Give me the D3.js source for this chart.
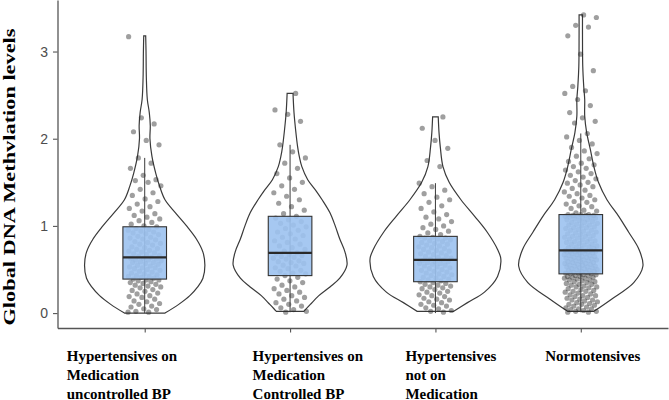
<!DOCTYPE html>
<html>
<head>
<meta charset="utf-8">
<script src="https://cdn.jsdelivr.net/npm/d3@7"></script>
<style>
  body { margin: 0; background: #fff; }
  svg { display: block; }
</style>
</head>
<body>
<div id="chart"></div>
<script>
// ---- data ----
const groups = ["uncontrolled", "controlled", "notMedicated", "normo"];

const groupLabels = [
	["Hypertensives on", "Medication", "uncontrolled BP"],
	["Hypertensives on", "Medication", "Controlled BP"],
	["Hypertensives", "not on", "Medication"],
	["Normotensives"]
];

const yTicks = [0, 1, 2, 3];

// box stats per group: lower whisker, Q1, median, Q3, upper whisker
const whiskerLo = [0.0, 0.01, 0.0, 0.01];
const q1 = [0.39, 0.43, 0.36, 0.45];
const medians = [0.64, 0.69, 0.61, 0.72];
const q3 = [0.99, 1.11, 0.88, 1.13];
const whiskerHi = [1.78, 1.93, 1.49, 2.06];

// violin outlines: level and relative density (1 = widest violin)
const violinLevels = [
	[0.0, 0.1, 0.2, 0.3, 0.4, 0.55, 0.7, 0.85, 1.0, 1.15, 1.3, 1.45, 1.6, 1.8, 2.0, 2.15, 2.3, 2.45, 2.7, 3.0, 3.18],
	[0.02, 0.1, 0.2, 0.3, 0.4, 0.55, 0.7, 0.85, 1.0, 1.15, 1.3, 1.4, 1.53, 1.68, 1.8, 1.91, 2.1, 2.3, 2.52],
	[0.02, 0.12, 0.24, 0.42, 0.62, 0.73, 0.93, 1.11, 1.3, 1.5, 1.68, 1.9, 2.07, 2.25],
	[0.02, 0.16, 0.35, 0.54, 0.73, 0.93, 1.11, 1.3, 1.5, 1.68, 1.88, 2.07, 2.26, 2.45, 2.6, 2.83, 3.2, 3.42]
];
const violinDensity = [
	[0.31, 0.52, 0.69, 0.81, 0.89, 0.92, 0.89, 0.79, 0.64, 0.47, 0.31, 0.23, 0.17, 0.11, 0.08, 0.085, 0.07, 0.04, 0.025, 0.02, 0.015],
	[0.21, 0.31, 0.44, 0.61, 0.76, 0.87, 0.84, 0.76, 0.69, 0.61, 0.49, 0.40, 0.27, 0.18, 0.14, 0.115, 0.085, 0.06, 0.045],
	[0.28, 0.49, 0.75, 0.95, 1.0, 0.95, 0.79, 0.60, 0.39, 0.21, 0.115, 0.075, 0.055, 0.043],
	[0.2, 0.47, 0.81, 0.95, 0.89, 0.73, 0.58, 0.40, 0.27, 0.2, 0.145, 0.09, 0.06, 0.06, 0.045, 0.03, 0.026, 0.026]
];

// individual observations (jittered points)
const valuesUncontrolled = [
	0.01, 0.01, 0.02, 0.04, 0.05, 0.07, 0.08, 0.1, 0.11, 0.13, 0.14, 0.16, 0.18, 0.19, 0.2, 0.22, 0.23, 0.25, 0.26, 0.27, 0.29, 0.3, 0.31, 0.32, 0.33, 0.34, 0.35, 0.36, 0.37, 0.38, 0.38,
	0.39, 0.4, 0.41, 0.42, 0.42, 0.43, 0.44, 0.45, 0.46, 0.47, 0.48, 0.49, 0.5, 0.51, 0.52, 0.52, 0.53, 0.54, 0.55, 0.56, 0.57, 0.58, 0.58, 0.59, 0.6, 0.61, 0.61, 0.62, 0.63, 0.63, 0.64,
	0.65, 0.66, 0.67, 0.68, 0.69, 0.7, 0.71, 0.72, 0.73, 0.74, 0.75, 0.76, 0.78, 0.79, 0.8, 0.81, 0.82, 0.84, 0.85, 0.86, 0.87, 0.88, 0.9, 0.91, 0.92, 0.93, 0.94, 0.95, 0.96, 0.97, 0.99,
	1.0, 1.02, 1.04, 1.06, 1.08, 1.1, 1.12, 1.14, 1.17, 1.2, 1.22, 1.25, 1.28, 1.31, 1.35, 1.38, 1.42, 1.46, 1.5, 1.52, 1.53, 1.58, 1.66, 1.72, 1.78, 1.93, 1.98, 2.08, 2.17, 2.24, 3.17
];
const valuesControlled = [
	0.01, 0.02, 0.04, 0.06, 0.08, 0.1, 0.12, 0.14, 0.16, 0.18, 0.2, 0.22, 0.24, 0.26, 0.28, 0.3, 0.32, 0.35, 0.37, 0.39, 0.41,
	0.43, 0.45, 0.46, 0.48, 0.49, 0.51, 0.52, 0.54, 0.55, 0.57, 0.58, 0.59, 0.6, 0.62, 0.63, 0.64, 0.65, 0.66, 0.67, 0.68, 0.69,
	0.71, 0.73, 0.75, 0.77, 0.79, 0.81, 0.83, 0.85, 0.87, 0.89, 0.91, 0.93, 0.95, 0.97, 0.99, 1.01, 1.03, 1.05, 1.07, 1.09, 1.11,
	1.14, 1.18, 1.22, 1.26, 1.3, 1.34, 1.38, 1.42, 1.46, 1.5, 1.55, 1.6, 1.66, 1.72, 1.78, 1.85, 1.93, 2.2, 2.28, 2.33, 2.52
];
const valuesNotMedicated = [
	0.01, 0.02, 0.03, 0.05, 0.06, 0.08, 0.09, 0.1, 0.12, 0.13, 0.15, 0.16, 0.17, 0.19, 0.2, 0.21, 0.23, 0.24, 0.25, 0.27, 0.28, 0.29, 0.3, 0.31, 0.32, 0.33, 0.34, 0.35,
	0.36, 0.37, 0.38, 0.39, 0.4, 0.41, 0.42, 0.43, 0.44, 0.45, 0.46, 0.47, 0.48, 0.49, 0.5, 0.51, 0.52, 0.53, 0.54, 0.55, 0.56, 0.57, 0.57, 0.58, 0.59, 0.59, 0.6, 0.61,
	0.62, 0.63, 0.64, 0.65, 0.66, 0.67, 0.68, 0.69, 0.7, 0.71, 0.72, 0.73, 0.74, 0.75, 0.76, 0.77, 0.78, 0.79, 0.8, 0.81, 0.82, 0.83, 0.84, 0.85, 0.86, 0.86, 0.87, 0.88,
	0.9, 0.92, 0.94, 0.96, 0.98, 1.0, 1.02, 1.05, 1.08, 1.1, 1.13, 1.16, 1.2, 1.23, 1.27, 1.3, 1.33, 1.37, 1.41, 1.45, 1.49, 1.68, 1.75, 1.89, 1.98, 2.12, 2.25
];
const valuesNormo = [
	0.01, 0.01, 0.02, 0.02, 0.03, 0.04, 0.05, 0.05, 0.06, 0.07, 0.08, 0.09, 0.1, 0.1, 0.11, 0.12, 0.13, 0.14, 0.15, 0.15, 0.16, 0.17, 0.18, 0.19, 0.2, 0.2, 0.21, 0.22, 0.23, 0.24,
	0.25, 0.25, 0.26, 0.27, 0.28, 0.29, 0.3, 0.3, 0.31, 0.32, 0.33, 0.33, 0.34, 0.35, 0.36, 0.36, 0.37, 0.38, 0.38, 0.39, 0.4, 0.4, 0.41, 0.41, 0.42, 0.42, 0.43, 0.43, 0.44, 0.44,
	0.45, 0.45, 0.46, 0.46, 0.47, 0.47, 0.48, 0.48, 0.49, 0.49, 0.5, 0.5, 0.51, 0.51, 0.52, 0.52, 0.53, 0.53, 0.54, 0.54, 0.55, 0.55, 0.56, 0.56, 0.57, 0.57, 0.58, 0.58, 0.59, 0.59,
	0.6, 0.6, 0.61, 0.61, 0.62, 0.62, 0.63, 0.63, 0.64, 0.64, 0.65, 0.65, 0.66, 0.66, 0.67, 0.67, 0.68, 0.68, 0.69, 0.69, 0.7, 0.7, 0.7, 0.71, 0.71, 0.71, 0.72, 0.72, 0.72, 0.72,
	0.73, 0.74, 0.74, 0.75, 0.76, 0.76, 0.77, 0.78, 0.79, 0.79, 0.8, 0.81, 0.82, 0.82, 0.83, 0.84, 0.85, 0.85, 0.86, 0.87, 0.88, 0.88, 0.89, 0.9, 0.91, 0.91, 0.92, 0.93, 0.94, 0.95,
	0.95, 0.96, 0.97, 0.98, 0.98, 0.99, 1.0, 1.01, 1.01, 1.02, 1.03, 1.04, 1.04, 1.05, 1.06, 1.07, 1.07, 1.08, 1.09, 1.09, 1.1, 1.1, 1.11, 1.11, 1.12, 1.12, 1.12, 1.13, 1.13, 1.13,
	1.15, 1.17, 1.18, 1.2, 1.22, 1.23, 1.25, 1.27, 1.28, 1.3, 1.32, 1.34, 1.35, 1.37, 1.39, 1.41, 1.43, 1.45, 1.47, 1.49, 1.5, 1.52, 1.54, 1.56, 1.58, 1.6, 1.62, 1.64, 1.66, 1.68,
	1.7, 1.72, 1.74, 1.77, 1.8, 1.83, 1.86, 1.9, 1.94, 1.98, 2.02, 2.06, 2.18, 2.2, 2.24, 2.3, 2.38, 2.45, 2.52, 2.55, 2.6, 2.78, 2.97, 3.18, 3.28, 3.3, 3.39, 3.42
];
const groupValues = [valuesUncontrolled, valuesControlled, valuesNotMedicated, valuesNormo];

// ---- layout ----
const width = 669, height = 400;
const panel = {left: 57.5, right: 668, top: 0, bottom: 328};
const labelShift = [-78.5, -38, -30.5, -36];   // left edge of each label block, relative to its tick

const svg = d3.select("#chart").append("svg")
	.attr("width", width)
	.attr("height", height);

const x = d3.scalePoint()
	.domain(groups)
	.range([panel.left, panel.right])
	.padding(0.6);
const step = x.step();

const y = d3.scaleLinear()
	.domain([-0.171, 3.591])
	.range([panel.bottom, panel.top]);

const w = d3.scaleLinear()
	.domain([0, 1])
	.range([0, 0.45 * step]);

// ---- violins ----
const violinArea = d3.area()
	.curve(d3.curveCatmullRom)
	.y(d => y(d[0]));

groups.forEach((g, i) => {
	const cx = x(g);
	const prof = d3.zip(violinLevels[i], violinDensity[i]);
	svg.append("path")
		.datum(prof)
		.attr("d", violinArea.x0(d => cx - w(d[1])).x1(d => cx + w(d[1])))
		.attr("fill", "none")
		.attr("stroke", "#3a3a3a")
		.attr("stroke-width", 1.2);
});

// ---- jittered points ----
const jitter = 0.115 * step;
groups.forEach((g, i) => {
	const cx = x(g);
	svg.append("g").selectAll("circle")
		.data(groupValues[i])
		.join("circle")
		.attr("cx", (d, k) => cx + (((k * 0.618034 + i * 0.37) % 1) - 0.5) * 2 * jitter)
		.attr("cy", d => y(d))
		.attr("r", 2.6)
		.attr("fill", "#2b2b2b")
		.attr("fill-opacity", 0.45);
});

// ---- boxes ----
const boxW = 0.3 * step;
groups.forEach((g, i) => {
	const cx = x(g);
	svg.append("line")
		.attr("x1", cx).attr("x2", cx)
		.attr("y1", y(whiskerLo[i])).attr("y2", y(whiskerHi[i]))
		.attr("stroke", "#3a3a3a")
		.attr("stroke-width", 1);
	svg.append("rect")
		.attr("x", cx - boxW / 2)
		.attr("width", boxW)
		.attr("y", y(q3[i]))
		.attr("height", y(q1[i]) - y(q3[i]))
		.attr("fill", "#9cc2f0")
		.attr("fill-opacity", 0.9)
		.attr("stroke", "#333")
		.attr("stroke-width", 1.1);
	svg.append("line")
		.attr("x1", cx - boxW / 2).attr("x2", cx + boxW / 2)
		.attr("y1", y(medians[i])).attr("y2", y(medians[i]))
		.attr("stroke", "#2a2a2a")
		.attr("stroke-width", 2.2);
});

// ---- axes ----
const yAxisG = svg.append("g")
	.attr("transform", `translate(${panel.left},0)`)
	.call(d3.axisLeft(y).tickValues(yTicks).tickFormat(d3.format("d"))
		.tickSize(4.5).tickSizeOuter(0).tickPadding(5));
yAxisG.select(".domain").attr("stroke", "#555").attr("stroke-width", 1.3);
yAxisG.selectAll(".tick line").attr("stroke", "#555").attr("stroke-width", 1.1);
yAxisG.selectAll(".tick text")
	.attr("fill", "#4d4d4d")
	.style("font-family", "'Liberation Sans', Arial, sans-serif")
	.style("font-size", "14px");

const xAxisG = svg.append("g")
	.attr("transform", `translate(0,${panel.bottom})`)
	.call(d3.axisBottom(x).tickSize(4.5).tickSizeOuter(0).tickFormat(""));
xAxisG.select(".domain").attr("stroke", "#555").attr("stroke-width", 1.3);
xAxisG.selectAll(".tick line").attr("stroke", "#555").attr("stroke-width", 1.1);

// multi-line category labels
xAxisG.selectAll(".tick").each(function(d, i) {
	const t = d3.select(this).select("text")
		.attr("y", 0)
		.attr("dy", null)
		.attr("text-anchor", "start")
		.attr("fill", "#000")
		.style("font-family", "'Liberation Serif', 'Times New Roman', serif")
		.style("font-weight", "bold")
		.style("font-size", "15px");
	t.selectAll("tspan")
		.data(groupLabels[i])
		.join("tspan")
		.attr("x", labelShift[i])
		.attr("y", (s, k) => 32.5 + k * 19)
		.text(s => s);
});

// y axis title
svg.append("text")
	.attr("transform", `translate(14.5,177) rotate(-90)`)
	.attr("text-anchor", "middle")
	.attr("textLength", 297)
	.attr("lengthAdjust", "spacingAndGlyphs")
	.style("font-family", "'Liberation Serif', 'Times New Roman', serif")
	.style("font-weight", "bold")
	.style("font-size", "16.5px")
	.text("Global DNA Methvlation levels");
</script>
</body>
</html>
